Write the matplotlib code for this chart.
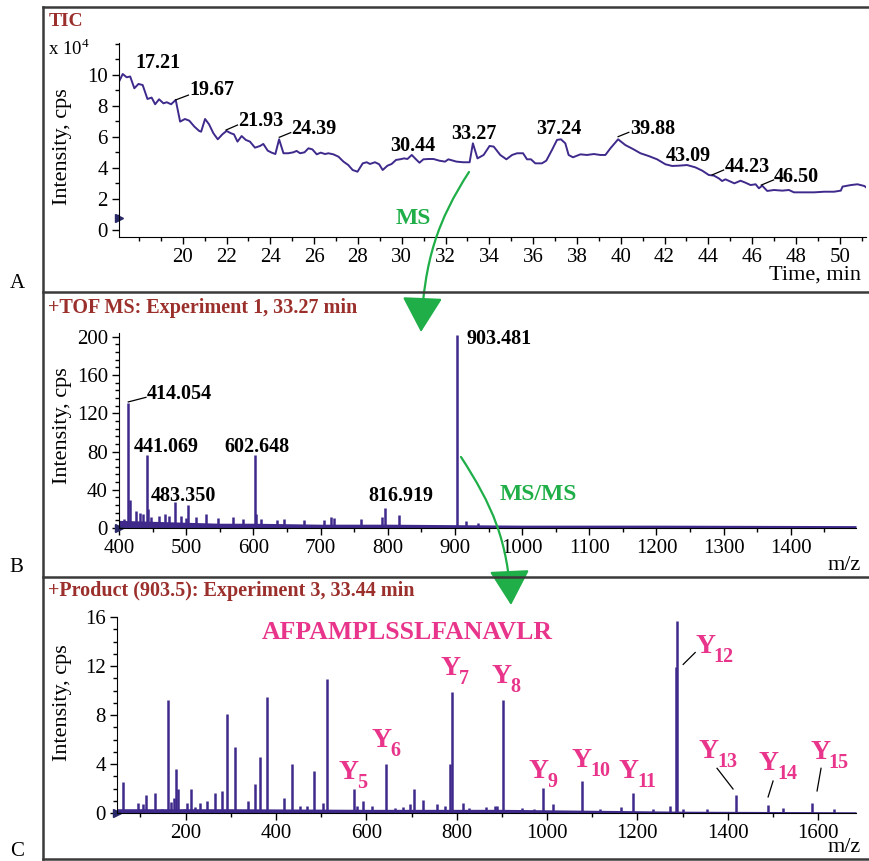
import matplotlib
matplotlib.use("Agg")
import matplotlib.pyplot as plt
from matplotlib.ticker import MultipleLocator, FixedLocator
from matplotlib.patches import FancyArrowPatch
from matplotlib.path import Path

plt.rcParams['font.family'] = 'Liberation Serif'
plt.rcParams['mathtext.fontset'] = 'custom'
plt.rcParams['mathtext.rm'] = 'Liberation Serif'

# ---- data ----
# A: TIC (time in min, intensity x 1e4 cps)
tic_t = [17.09, 17.26, 17.44, 17.60, 17.79, 17.98, 18.17, 18.39, 18.58, 18.74,
         18.92, 19.12, 19.27, 19.47, 19.68, 19.88, 20.10, 20.30, 20.53, 20.75,
         20.84, 21.02, 21.20, 21.40, 21.60, 21.81, 22.00, 22.20, 22.34, 22.50,
         22.69, 22.88, 23.07, 23.30, 23.53, 23.68, 23.88, 24.06, 24.23, 24.40,
         24.60, 24.82, 25.05, 25.20, 25.36, 25.56, 25.74, 25.92, 26.12, 26.30,
         26.50, 26.65, 26.88, 27.11, 27.34, 27.56, 27.76, 27.98, 28.22, 28.40,
         28.55, 28.78, 28.97, 29.13, 29.35, 29.54, 29.74, 29.92, 30.11, 30.26,
         30.46, 30.65, 30.81, 30.99, 31.22, 31.45, 31.72, 31.98, 32.13, 32.50,
         32.81, 33.10, 33.25, 33.46, 33.74, 34.01, 34.20, 34.50, 34.78, 35.04,
         35.27, 35.54, 35.72, 35.90, 36.10, 36.40, 36.60, 36.86, 37.09, 37.27,
         37.47, 37.62, 37.82, 38.16, 38.46, 38.77, 39.07, 39.30, 39.53, 39.88,
         40.21, 40.59, 40.90, 41.28, 41.66, 42.04, 42.35, 42.65, 43.03, 43.41,
         43.72, 44.02, 44.25, 44.48, 44.63, 44.78, 45.01, 45.19, 45.47, 45.70,
         45.93, 46.16, 46.31, 46.46, 46.69, 47.00, 47.38, 47.68, 47.91, 48.37,
         48.83, 49.29, 49.74, 50.05, 50.13, 50.51, 50.81, 51.12, 51.27]
tic_i = [9.57, 10.06, 9.85, 9.90, 9.14, 9.42, 9.35, 8.45, 8.54, 8.11,
         8.43, 8.17, 8.24, 8.11, 8.39, 6.99, 7.16, 7.05, 6.67, 6.39,
         6.34, 7.16, 6.82, 6.24, 5.85, 6.17, 6.39, 6.24, 6.17, 5.70,
         6.06, 5.81, 5.70, 5.31, 5.42, 5.55, 5.12, 4.99, 4.90, 5.85,
         4.95, 4.95, 5.01, 5.10, 4.95, 5.01, 5.27, 5.20, 4.88, 4.99,
         4.90, 4.95, 4.88, 4.73, 4.41, 4.19, 3.87, 3.76, 4.30, 4.37,
         4.26, 4.37, 4.24, 3.87, 4.15, 4.26, 4.52, 4.56, 4.62, 4.58,
         4.84, 4.56, 4.34, 4.56, 4.58, 4.58, 4.47, 4.41, 4.56, 4.41,
         4.37, 4.37, 5.59, 4.62, 4.84, 5.42, 5.38, 4.84, 4.56, 4.84,
         4.95, 4.95, 4.56, 4.56, 4.30, 4.30, 4.47, 5.16, 5.81, 5.85,
         5.59, 4.84, 4.69, 4.88, 4.84, 4.90, 4.84, 4.84, 5.27, 5.85,
         5.48, 5.20, 4.95, 4.77, 4.56, 4.24, 4.13, 4.15, 4.19, 4.04,
         3.83, 3.55, 3.51, 3.33, 3.16, 3.27, 3.12, 3.01, 3.18, 3.05,
         2.90, 2.95, 2.69, 2.86, 2.52, 2.58, 2.54, 2.58, 2.43, 2.43,
         2.43, 2.47, 2.47, 2.54, 2.80, 2.90, 2.95, 2.84, 2.69]
tic_labels = ['17.21', '19.67', '21.93', '24.39', '30.44', '33.27',
              '37.24', '39.88', '43.09', '44.23', '46.50']
tic_lab_x = [18.86, 21.32, 23.57, 26.0, 30.49, 33.30, 37.17, 41.45, 43.07, 45.77, 48.04]
tic_lab_y = [10.8, 9.0, 7.05, 6.5, 5.42, 6.19, 6.52, 6.52, 4.77, 4.06, 3.42]

# B: TOF MS spectrum
ms_mz = [407, 414.054, 417, 425, 432, 436, 441.069, 443, 448, 460, 468, 474,
         483.35, 492, 500, 503, 515, 530, 548, 570, 585, 602.648, 604, 612,
         635, 645, 675, 705, 716, 720, 760, 792, 796, 816.919, 903.481, 916, 934]
ms_int = [9.4, 131, 29, 18, 16, 15, 76, 20, 11, 13, 15, 13,
          27, 13, 10, 24.5, 11, 15, 10, 12, 9, 76, 15, 9,
          8, 9, 8, 8, 11, 10, 9, 11, 21, 13.6, 202, 7.5, 5.7]
ms_noise_mz = [400, 450, 500, 550, 600, 650, 700, 800, 900, 1000, 1200, 1497]
ms_noise = [8, 7, 6, 5, 5, 4.5, 4, 4, 3.5, 3, 3, 2.5]
ms_labels = ['414.054', '441.069', '483.350', '602.648', '816.919', '903.481']
ms_lab_x = [441.2, 470.2, 496.5, 605.6, 819.4, 917.4]
ms_lab_y = [140.6, 84.9, 33.6, 84.9, 33.6, 198.1]

# C: product ion spectrum
pr_mz = [61, 95, 106, 112, 133, 148, 161, 167, 174, 178, 183, 197, 204, 211,
         221, 232, 247, 265, 280, 292, 309, 337, 353, 365, 381, 418, 436, 453,
         468, 484, 505, 513, 572.35, 580, 593, 612, 643.4, 664, 682, 697, 706,
         726, 757, 774, 786, 790.45, 813, 828, 866, 885, 890, 903.5, 944, 972,
         990.6, 1014, 1077.6, 1117, 1164, 1190.7, 1235, 1272, 1286, 1287.7,
         1301, 1354, 1418.8, 1489.8, 1522, 1586.9, 1636]
pr_int = [2.5, 0.8, 0.7, 1.5, 1.6, 0.3, 9.2, 0.9, 1.2, 3.6, 2.0, 0.3, 0.8, 2.0,
          0.5, 0.8, 1.0, 1.6, 1.8, 8.1, 5.4, 1.0, 2.4, 4.6, 9.5, 1.2, 4.0, 0.6,
          0.6, 3.4, 0.8, 10.9, 2.0, 0.6, 1.0, 0.6, 4.0, 0.4, 0.5, 0.7, 2.0,
          1.1, 0.7, 0.6, 4.0, 9.85, 0.8, 0.4, 0.5, 0.6, 0.6, 9.25, 0.4, 0.3,
          2.07, 0.7, 2.65, 0.3, 0.5, 1.64, 0.3, 0.6, 11.9, 15.7,
          0.3, 0.3, 1.46, 0.66, 0.4, 0.85, 0.3]
pr_noise_mz = [48, 300, 600, 900, 1300, 1684]
pr_noise = [0.35, 0.35, 0.3, 0.3, 0.15, 0.1]
y_ions = ['5', '6', '7', '8', '9', '10', '11', '12', '13', '14', '15']
y_lab_x = [537.4, 612, 763.2, 877.7, 958.7, 1054.8, 1158, 1327.7, 1335, 1468, 1582.4]
y_lab_y = [2.77, 5.37, 11.29, 10.61, 2.82, 3.76, 2.82, 13.09, 4.48, 3.49, 4.43]
peptide = 'AFPAMPLSSLFANAVLR'

purple = '#3f2a8c'
title_red = '#9b2f2b'
pink = '#e8348a'
green = '#1fae48'

W, H = 869, 861
fig = plt.figure(figsize=(W / 100, H / 100), dpi=100)


def box(l, t, r, b):
    return [l / W, 1 - b / H, (r - l) / W, (b - t) / H]


def style(ax):
    ax.spines['top'].set_visible(False)
    ax.spines['right'].set_visible(False)
    ax.patch.set_alpha(0)
    ax.tick_params(which='both', direction='out', labelsize=15, pad=3)
    ax.tick_params(which='major', length=5, width=1)
    ax.tick_params(which='minor', length=3, width=1)


# ---- A ----
axA = fig.add_axes(box(119, 43, 866, 237))
style(axA)
axA.plot(tic_t, tic_i, color=purple, lw=1.4)
axA.set_xlim(17.09, 51.2)
axA.set_ylim(-0.45, 12.06)
axA.xaxis.set_major_locator(FixedLocator(list(range(20, 51, 2))))
axA.xaxis.set_minor_locator(MultipleLocator(1))
axA.yaxis.set_major_locator(FixedLocator([0, 2, 4, 6, 8, 10]))
axA.yaxis.set_minor_locator(MultipleLocator(1))
axA.plot(17.09, 0.8, marker='>', color='#2a2a6a', ms=6, clip_on=False)
for s, x, y in zip(tic_labels, tic_lab_x, tic_lab_y):
    axA.text(x, y, s, ha='center', va='center', fontsize=14.5, fontweight='bold')
for (x0, y0, x1, y1) in [(19.68, 8.39, 20.26, 8.7), (21.98, 6.45, 22.5, 6.77),
                         (24.41, 5.98, 24.93, 6.28), (39.88, 6.02, 40.37, 6.3),
                         (44.17, 3.55, 44.7, 3.87), (46.42, 2.9, 46.98, 3.23)]:
    axA.plot([x0, x1], [y0, y1], color='black', lw=0.9)

# ---- B ----
axB = fig.add_axes(box(119, 333, 856, 528))
style(axB)
axB.fill_between(ms_noise_mz, 0, ms_noise, color=purple, lw=0)
axB.vlines(ms_mz, 0, ms_int, color=purple, lw=1.8)
axB.set_xlim(400, 1497)
axB.set_ylim(0, 204)
axB.xaxis.set_major_locator(MultipleLocator(100))
axB.xaxis.set_minor_locator(MultipleLocator(50))
axB.yaxis.set_major_locator(MultipleLocator(40))
axB.yaxis.set_minor_locator(MultipleLocator(8))
axB.plot(400, 0, marker='>', color='#2a2a6a', ms=6, clip_on=False)
for s, x, y in zip(ms_labels, ms_lab_x, ms_lab_y):
    ha = 'left' if s in ('414.054', '903.481') else 'center'
    axB.text(x, y, s, ha=ha, va='center', fontsize=14.5, fontweight='bold')
axB.plot([413.8, 440.2], [131.9, 136.7], color='black', lw=0.9)

# ---- C ----
axC = fig.add_axes(box(117, 617, 856, 813))
style(axC)
axC.fill_between(pr_noise_mz, 0, pr_noise, color=purple, lw=0)
axC.vlines(pr_mz, 0, pr_int, color=purple, lw=1.8)
axC.set_xlim(48, 1684)
axC.set_ylim(0, 16)
axC.xaxis.set_major_locator(MultipleLocator(200))
axC.xaxis.set_minor_locator(MultipleLocator(100))
axC.yaxis.set_major_locator(MultipleLocator(4))
axC.yaxis.set_minor_locator(MultipleLocator(1))
axC.plot(48, 0, marker='>', color='#2a2a6a', ms=6, clip_on=False)
axC.text(691, 14.7, peptide, ha='center', va='center',
         fontsize=18.5, fontweight='bold', color=pink)
for n, x, y in zip(y_ions, y_lab_x, y_lab_y):
    axC.text(x, y, 'Y', ha='left', va='baseline', fontsize=20, fontweight='bold', color=pink)
    axC.annotate(n, xy=(x, y), xytext=(13.5, -6.5), textcoords='offset points',
                 ha='left', va='baseline', fontsize=14.5, fontweight='bold', color=pink)
for (x0, y0, x1, y1) in [(1301.4, 12.13, 1328, 13.1), (1376.4, 3.65, 1411.8, 1.96),
                         (1500.4, 2.61, 1489.4, 1.31), (1606.6, 3.65, 1597.8, 1.8)]:
    axC.plot([x0, x1], [y0, y1], color='black', lw=0.9)

# ---- overlay in pixel coordinates: frame, titles, axis texts, arrows ----
ov = fig.add_axes([0, 0, 1, 1], zorder=5)
ov.set_xlim(0, W)
ov.set_ylim(H, 0)
ov.axis('off')
frame = dict(color='#3a3a3a', lw=1.8)
ov.plot([42.5, 42.5], [7, 859], **frame)
ov.plot([42.5, W], [7, 7], **frame)
ov.plot([42.5, W], [292, 292], **frame)
ov.plot([42.5, W], [577, 577], **frame)
ov.plot([42.5, W], [859, 859], **frame)

ov.text(49, 21, 'TIC', ha='left', va='center', fontsize=14, fontweight='bold', color=title_red)
ov.text(48, 308, '+TOF MS: Experiment 1, 33.27 min', ha='left', va='center',
        fontsize=14.5, fontweight='bold', color=title_red)
ov.text(48, 591, '+Product (903.5): Experiment 3, 33.44 min', ha='left', va='center',
        fontsize=14.5, fontweight='bold', color=title_red)
ov.text(48, 49, r'x 10$^4$', ha='left', va='center', fontsize=13.5)
for yc in (147, 426, 703):
    ov.text(62, yc, 'Intensity, cps', rotation=90, ha='center', va='center', fontsize=16)
ov.text(861, 275, 'Time, min', ha='right', va='center', fontsize=16)
ov.text(861, 565, 'm/z', ha='right', va='center', fontsize=16)
ov.text(861, 848, 'm/z', ha='right', va='center', fontsize=16)
for s, (x, y) in zip('ABC', [(17, 283), (16, 567), (17, 851)]):
    ov.text(x, y, s, ha='center', va='center', fontsize=15)

ov.text(413, 218, 'MS', ha='center', va='center', fontsize=17, fontweight='bold', color=green)
ov.text(538, 495, 'MS/MS', ha='center', va='center', fontsize=17, fontweight='bold', color=green)
for verts in ([(469, 172), (438, 220), (424, 260), (421, 332)],
              [(461, 457), (492, 505), (508, 540), (511, 605)]):
    arr = FancyArrowPatch(path=Path(verts, [Path.MOVETO, Path.CURVE4, Path.CURVE4, Path.CURVE4]),
                          arrowstyle='-|>,head_length=1.3,head_width=0.75',
                          color=green, lw=1.6, mutation_scale=17)
    ov.add_patch(arr)

fig.savefig('out.png', dpi=100)
